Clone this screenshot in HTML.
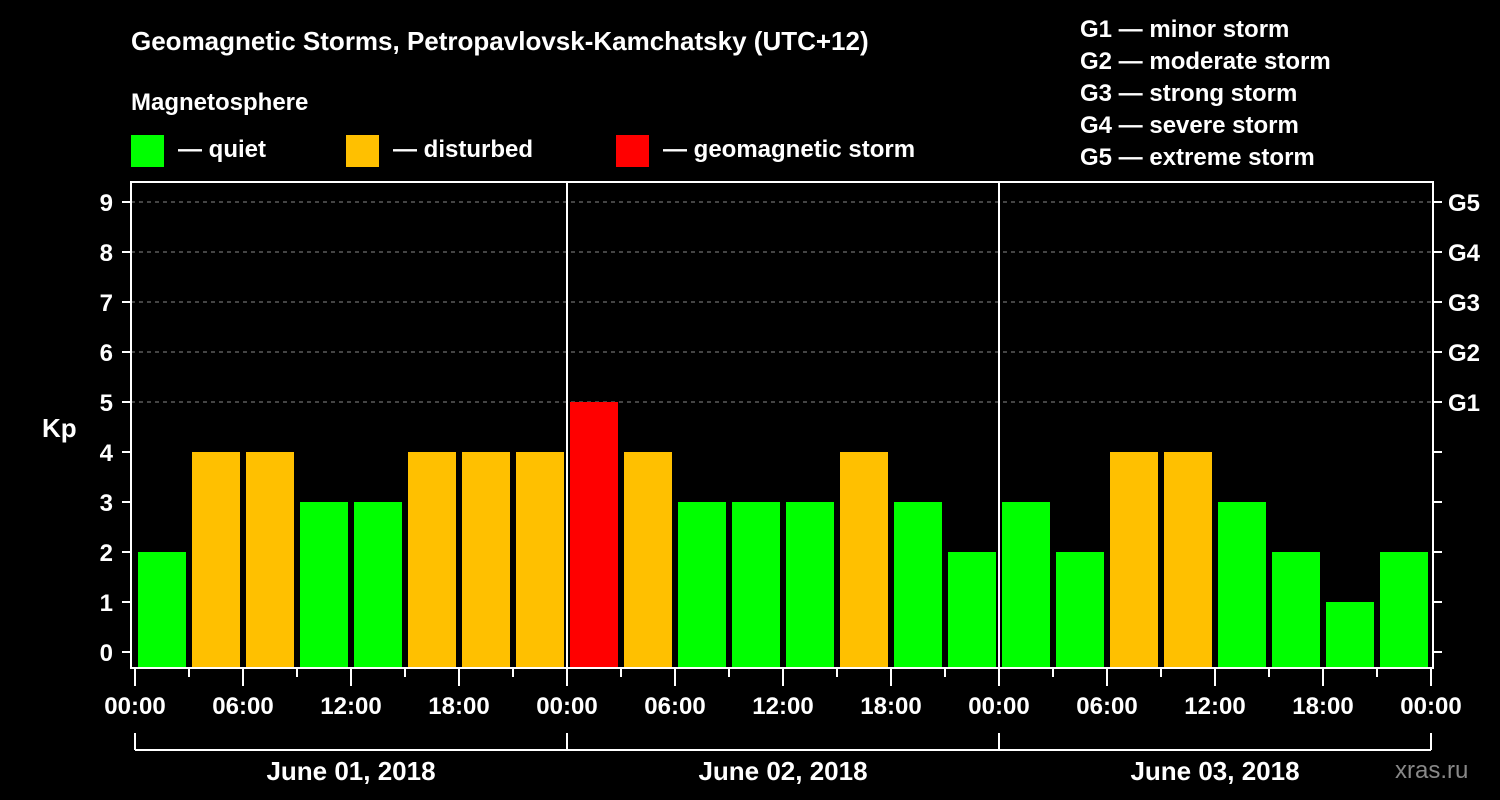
<!DOCTYPE html>
<html><head><meta charset="utf-8"><style>
html,body{margin:0;background:#000;}
svg{display:block;font-family:"Liberation Sans",sans-serif;font-weight:bold;}
</style></head><body>
<svg id="c" width="1500" height="800" viewBox="0 0 1500 800">
<text x="131" y="50" fill="#fff" font-size="26">Geomagnetic Storms, Petropavlovsk-Kamchatsky (UTC+12)</text>
<text x="131" y="110" fill="#fff" font-size="24">Magnetosphere</text>
<g><rect x="131" y="135" width="33" height="32" fill="#00ff00"/><text x="178" y="157" fill="#fff" font-size="24">— quiet</text></g>
<g><rect x="346" y="135" width="33" height="32" fill="#ffc000"/><text x="393" y="157" fill="#fff" font-size="24">— disturbed</text></g>
<g><rect x="616" y="135" width="33" height="32" fill="#ff0000"/><text x="663" y="157" fill="#fff" font-size="24">— geomagnetic storm</text></g>
<g fill="#fff" font-size="24">
<text x="1080" y="37">G1 — minor storm</text><text x="1080" y="69">G2 — moderate storm</text><text x="1080" y="101">G3 — strong storm</text><text x="1080" y="133">G4 — severe storm</text><text x="1080" y="165">G5 — extreme storm</text></g>
<text x="42" y="437" fill="#fff" font-size="26">Kp</text>
<text x="1395" y="778" fill="#888" font-size="24" font-weight="normal">xras.ru</text>
<g id="plot"></g>
</svg>
<script>
const kpValues=[2,4,4,3,3,4,4,4, 5,4,3,3,3,4,3,2, 3,2,4,4,3,2,1,2];
const dayLabels=["June 01, 2018","June 02, 2018","June 03, 2018"];
const hourLabels=["00:00","06:00","12:00","18:00"];
const gLabels=["G1","G2","G3","G4","G5"];
const yTicks=[0,1,2,3,4,5,6,7,8,9];
const NS="http://www.w3.org/2000/svg";
const g=document.getElementById('plot');
const X0=135,HW=18,L=131,R=1433,T=182,B=668;
const x=h=>X0+h*HW;
const y=v=>652-v*50;
function mk(t,a){const e=document.createElementNS(NS,t);for(const k in a)e.setAttribute(k,a[k]);g.appendChild(e);return e;}
// grid
yTicks.forEach(v=>{
 if(v>=5){const l=mk('line',{x1:L,x2:R,y1:y(v),y2:y(v),stroke:'#888','stroke-dasharray':'4,4','stroke-width':1});
 
 }
 const t=mk('text',{x:113,y:y(v)+9,fill:'#fff','font-size':24,'text-anchor':'end'});t.textContent=v;
 
 
 mk('line',{x1:122,x2:L,y1:y(v),y2:y(v),stroke:'#fff','stroke-width':2});
 mk('line',{x1:R,x2:1442,y1:y(v),y2:y(v),stroke:'#fff','stroke-width':2});
});
gLabels.forEach((s,i)=>{const t=mk('text',{x:1448,y:y(i+5)+9,fill:'#fff','font-size':24});t.textContent=s;
 
 });
// bars
kpValues.forEach((v,i)=>{
 const c=v>=5?'#ff0000':(v>=4?'#ffc000':'#00ff00');
 const r=mk('rect',{x:x(i*3)+3,y:y(v),width:48,height:B-y(v),fill:c});
 
 
});
// frame
mk('rect',{x:L,y:T,width:R-L,height:B-T,fill:'none',stroke:'#fff','stroke-width':2});
for(let d=1;d<3;d++)mk('line',{x1:x(d*24),x2:x(d*24),y1:T,y2:B,stroke:'#fff','stroke-width':2});
// x ticks
for(let h=0;h<=72;h+=3){
 const major=h%6===0;
 mk('line',{x1:x(h),x2:x(h),y1:B,y2:major?686:677,stroke:'#fff','stroke-width':2});
 if(major){const t=mk('text',{x:x(h),y:714,fill:'#fff','font-size':24,'text-anchor':'middle'});t.textContent=hourLabels[(h%24)/6];
 
 }
}
// day brackets
mk('line',{x1:x(0),x2:x(72),y1:750,y2:750,stroke:'#fff','stroke-width':2});
for(let d=0;d<=3;d++)mk('line',{x1:x(d*24),x2:x(d*24),y1:733,y2:750,stroke:'#fff','stroke-width':2});
dayLabels.forEach((s,d)=>{const t=mk('text',{x:x(d*24+12),y:780,fill:'#fff','font-size':26,'text-anchor':'middle'});t.textContent=s;
 
 });
</script>
</body></html>
